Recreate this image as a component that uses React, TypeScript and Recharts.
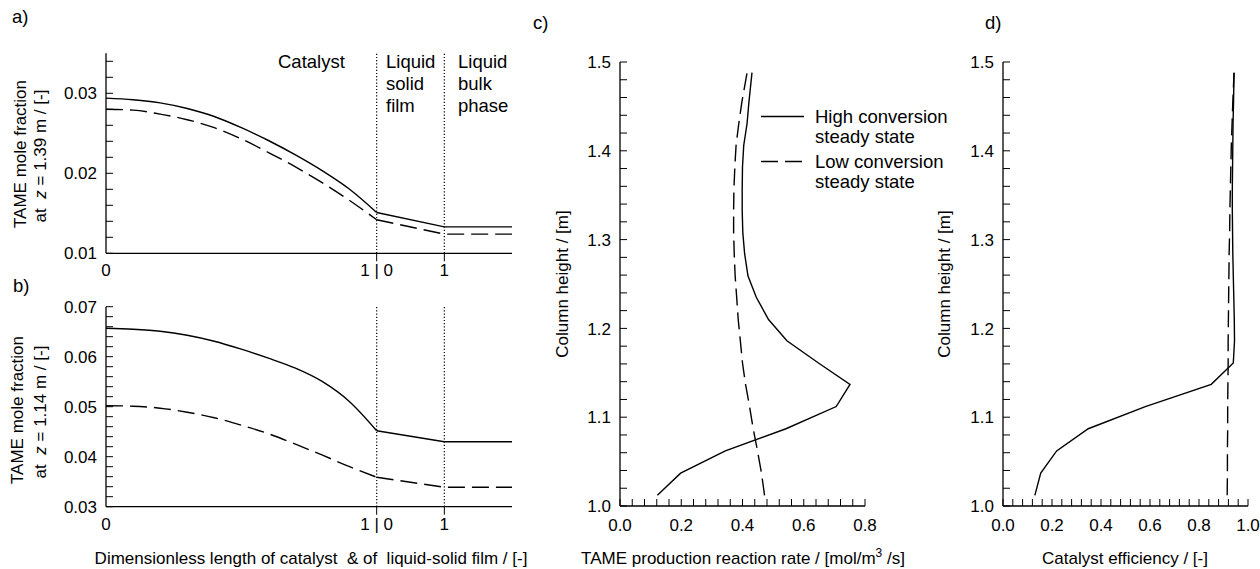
import React from 'react';
import { LineChart, Line, XAxis, YAxis, ReferenceLine } from 'recharts';

const FONT = '"Liberation Sans", Arial, Helvetica, sans-serif';

// ---------- Panels a) and b): concentration profiles ----------
// position: catalyst 0..1, liquid-solid film drawn on 1..1.25, bulk 1.25..1.5
const profilePos = [0, 0.1, 0.2, 0.3, 0.4, 0.5, 0.6, 0.7, 0.8, 0.9, 1.0, 1.25, 1.5];
const aHigh = [0.0294, 0.0292, 0.0288, 0.0281, 0.0271, 0.0257, 0.0241, 0.0223, 0.0203, 0.018, 0.0151, 0.0133, 0.0133];
const aLow = [0.028, 0.0279, 0.0274, 0.0267, 0.0257, 0.0243, 0.0226, 0.0208, 0.0188, 0.0166, 0.0142, 0.0124, 0.0124];
const bHigh = [0.0657, 0.0655, 0.0651, 0.0643, 0.0631, 0.0615, 0.0597, 0.0577, 0.055, 0.051, 0.0452, 0.043, 0.043];
const bLow = [0.0502, 0.0501, 0.0497, 0.0489, 0.0478, 0.0463, 0.0446, 0.0425, 0.0403, 0.038, 0.0359, 0.0339, 0.0339];

const abXTicks = [0, 1, 1.25];
const abXLabels = ['0', '1 | 0', '1'];
const abBoundaries = [1, 1.25];
const abXDomain = [0, 1.5];
const catalystEnd = 1;

const aYDomain = [0.01, 0.035];
const aYMajor = [0.01, 0.02, 0.03];
const aYTicks = [0.01, 0.012, 0.014, 0.016, 0.018, 0.02, 0.022, 0.024, 0.026, 0.028, 0.03, 0.032, 0.034];
const bYDomain = [0.03, 0.07];
const bYMajor = [0.03, 0.04, 0.05, 0.06, 0.07];
const bYTicks = [0.03, 0.032, 0.034, 0.036, 0.038, 0.04, 0.042, 0.044, 0.046, 0.048, 0.05, 0.052, 0.054, 0.056, 0.058, 0.06, 0.062, 0.064, 0.066, 0.068, 0.07];

// ---------- Panels c) and d): axial profiles ----------
const heights = [1.012, 1.037, 1.062, 1.087, 1.112, 1.137, 1.161, 1.186, 1.21, 1.235, 1.259, 1.284, 1.308, 1.333, 1.357, 1.382, 1.406, 1.431, 1.455, 1.488];
const cHigh = [0.122, 0.198, 0.344, 0.542, 0.706, 0.751, 0.648, 0.545, 0.485, 0.445, 0.418, 0.407, 0.401, 0.399, 0.399, 0.4, 0.404, 0.415, 0.421, 0.431];
const cLow = [0.472, 0.462, 0.449, 0.435, 0.423, 0.41, 0.4, 0.393, 0.386, 0.381, 0.376, 0.373, 0.371, 0.371, 0.372, 0.375, 0.379, 0.388, 0.398, 0.415];
const dHigh = [0.13, 0.154, 0.219, 0.348, 0.581, 0.85, 0.94, 0.945, 0.944, 0.942, 0.94, 0.938, 0.937, 0.936, 0.936, 0.937, 0.938, 0.939, 0.941, 0.943];
const dLow = [0.915, 0.916, 0.916, 0.917, 0.917, 0.918, 0.919, 0.919, 0.92, 0.921, 0.922, 0.923, 0.925, 0.926, 0.928, 0.93, 0.932, 0.935, 0.938, 0.943];

const hDomain = [1.0, 1.5];
const hMajor = [1.0, 1.1, 1.2, 1.3, 1.4, 1.5];
const hTicks = [1.0, 1.02, 1.04, 1.06, 1.08, 1.1, 1.12, 1.14, 1.16, 1.18, 1.2, 1.22, 1.24, 1.26, 1.28, 1.3, 1.32, 1.34, 1.36, 1.38, 1.4, 1.42, 1.44, 1.46, 1.48, 1.5];
const cXDomain = [0, 0.8];
const cXMajor = [0, 0.2, 0.4, 0.6, 0.8];
const cXTicks = [0, 0.04, 0.08, 0.12, 0.16, 0.2, 0.24, 0.28, 0.32, 0.36, 0.4, 0.44, 0.48, 0.52, 0.56, 0.6, 0.64, 0.68, 0.72, 0.76, 0.8];
const dXDomain = [0, 1.0];
const dXMajor = [0, 0.2, 0.4, 0.6, 0.8, 1.0];
const dXTicks = [0, 0.04, 0.08, 0.12, 0.16, 0.2, 0.24, 0.28, 0.32, 0.36, 0.4, 0.44, 0.48, 0.52, 0.56, 0.6, 0.64, 0.68, 0.72, 0.76, 0.8, 0.84, 0.88, 0.92, 0.96, 1.0];

const legendItems = [
  { lines: ['High conversion', 'steady state'], dash: undefined as string | undefined },
  { lines: ['Low conversion', 'steady state'], dash: '17 7' },
];

const DASH = '17 7';
const SW = 1.4;
const TICK_FS = 17;

// catalyst part (smooth) and film/bulk part (straight) are drawn as separate lines
const buildProfile = (hi: number[], lo: number[]) =>
  profilePos.map((p, i) => ({
    p,
    highCat: p <= catalystEnd ? hi[i] : null,
    lowCat: p <= catalystEnd ? lo[i] : null,
    highOut: p >= catalystEnd ? hi[i] : null,
    lowOut: p >= catalystEnd ? lo[i] : null,
  }));
const profileA = buildProfile(aHigh, aLow);
const profileB = buildProfile(bHigh, bLow);
const axialC = heights.map((h, i) => ({ h, high: cHigh[i], low: cLow[i] }));
const axialD = heights.map((h, i) => ({ h, high: dHigh[i], low: dLow[i] }));

const isIn = (arr: number[], v: number) => arr.some((m) => Math.abs(m - v) < 1e-9);

const makeYTick = (majors: number[], digits: number) => (props: any) => {
  const { x, y, payload } = props;
  const v = payload.value;
  return (
    <g>
      <line x1={x} x2={x + 7} y1={y} y2={y} stroke="#000" strokeWidth={1} />
      {isIn(majors, v) && (
        <text x={x - 9} y={y} dy="0.36em" textAnchor="end" fontSize={TICK_FS} fontFamily={FONT} fill="#000">
          {v.toFixed(digits)}
        </text>
      )}
    </g>
  );
};

const makeXTick = (majors: number[], digits: number) => (props: any) => {
  const { x, y, payload } = props;
  const v = payload.value;
  return (
    <g>
      <line x1={x} x2={x} y1={y} y2={y - 7} stroke="#000" strokeWidth={1} />
      {isIn(majors, v) && (
        <text x={x} y={y + 19} dy="0.36em" textAnchor="middle" fontSize={TICK_FS} fontFamily={FONT} fill="#000">
          {v.toFixed(digits)}
        </text>
      )}
    </g>
  );
};

const abXTick = (props: any) => {
  const { x, y, payload } = props;
  const i = abXTicks.findIndex((t) => Math.abs(t - payload.value) < 1e-9);
  return (
    <g>
      {payload.value !== 0 && <line x1={x} x2={x} y1={y} y2={y + 8} stroke="#000" strokeWidth={1} />}
      <text x={x} y={y + 17} dy="0.36em" textAnchor="middle" fontSize={TICK_FS} fontFamily={FONT} fill="#000">
        {abXLabels[i]}
      </text>
    </g>
  );
};

const axisLine = { stroke: '#000', strokeWidth: 1.3 };

function ProfileChart({ data, yDomain, yTicks, yMajor, top }: any) {
  return (
    <LineChart
      width={530}
      height={top === 0 ? 290 : 280}
      data={data}
      margin={{ top: top === 0 ? 53.3 : 36.7, right: 18, bottom: 0, left: 0 }}
    >
      <XAxis
        dataKey="p"
        type="number"
        domain={abXDomain}
        ticks={abXTicks}
        interval={0}
        tickSize={0}
        tickMargin={0}
        tickLine={false}
        axisLine={axisLine}
        tick={abXTick}
        height={top === 0 ? 36.7 : 43.3}
        allowDataOverflow
      />
      <YAxis
        type="number"
        domain={yDomain}
        ticks={yTicks}
        interval={0}
        tickSize={0}
        tickMargin={0}
        tickLine={false}
        axisLine={axisLine}
        tick={makeYTick(yMajor, 2)}
        width={106}
        allowDataOverflow
      />
      {abBoundaries.map((b) => (
        <ReferenceLine key={b} x={b} stroke="#000" strokeWidth={1.2} strokeDasharray="1.2 2" />
      ))}
      <Line dataKey="highCat" type="monotone" stroke="#000" strokeWidth={SW} dot={false} isAnimationActive={false} />
      <Line dataKey="lowCat" type="monotone" stroke="#000" strokeWidth={SW} strokeDasharray={DASH} dot={false} isAnimationActive={false} />
      <Line dataKey="highOut" type="linear" stroke="#000" strokeWidth={SW} dot={false} isAnimationActive={false} />
      <Line dataKey="lowOut" type="linear" stroke="#000" strokeWidth={SW} strokeDasharray={DASH} dot={false} isAnimationActive={false} />
    </LineChart>
  );
}

function AxialChart({ data, xDomain, xTicks, xMajor, yWidth, rightMargin, width }: any) {
  return (
    <LineChart
      layout="vertical"
      width={width}
      height={540}
      data={data}
      margin={{ top: 62, right: rightMargin, bottom: 0, left: 0 }}
    >
      <XAxis
        type="number"
        domain={xDomain}
        ticks={xTicks}
        interval={0}
        tickSize={0}
        tickMargin={0}
        tickLine={false}
        axisLine={axisLine}
        tick={makeXTick(xMajor, 1)}
        height={34}
        allowDataOverflow
      />
      <YAxis
        type="number"
        dataKey="h"
        domain={hDomain}
        ticks={hTicks}
        interval={0}
        tickSize={0}
        tickMargin={0}
        tickLine={false}
        axisLine={axisLine}
        tick={makeYTick(hMajor, 1)}
        width={yWidth}
        reversed
        allowDataOverflow
      />
      <Line dataKey="high" type="linear" stroke="#000" strokeWidth={SW} dot={false} isAnimationActive={false} />
      <Line dataKey="low" type="linear" stroke="#000" strokeWidth={SW} strokeDasharray={DASH} dot={false} isAnimationActive={false} />
    </LineChart>
  );
}

const txt = { fontFamily: FONT, fill: '#000' };

export default function App() {
  return (
    <div style={{ position: 'absolute', left: 0, top: 0, width: 1260, height: 569, background: '#fff', overflow: 'hidden' }}>
      <div style={{ position: 'absolute', left: 0, top: 0 }}>
        <ProfileChart data={profileA} yDomain={aYDomain} yTicks={aYTicks} yMajor={aYMajor} top={0} />
      </div>
      <div style={{ position: 'absolute', left: 0, top: 270 }}>
        <ProfileChart data={profileB} yDomain={bYDomain} yTicks={bYTicks} yMajor={bYMajor} top={270} />
      </div>
      <div style={{ position: 'absolute', left: 540, top: 0 }}>
        <AxialChart data={axialC} xDomain={cXDomain} xTicks={cXTicks} xMajor={cXMajor} yWidth={80} rightMargin={20} width={345} />
      </div>
      <div style={{ position: 'absolute', left: 920, top: 0 }}>
        <AxialChart data={axialD} xDomain={dXDomain} xTicks={dXTicks} xMajor={dXMajor} yWidth={83} rightMargin={12} width={340} />
      </div>
      <svg width={1260} height={569} style={{ position: 'absolute', left: 0, top: 0, pointerEvents: 'none' }}>
        {/* panel letters */}
        <text x={12} y={22.5} fontSize={18.5} {...txt}>a)</text>
        <text x={13} y={291.5} fontSize={18.5} {...txt}>b)</text>
        <text x={533} y={28.5} fontSize={18.5} {...txt}>c)</text>
        <text x={985} y={28.5} fontSize={18.5} {...txt}>d)</text>

        {/* region annotations in a) */}
        <text x={278} y={68} fontSize={18.5} {...txt}>Catalyst</text>
        <text x={386} y={68} fontSize={18.5} {...txt}>Liquid</text>
        <text x={386} y={90} fontSize={18.5} {...txt}>solid</text>
        <text x={386} y={112} fontSize={18.5} {...txt}>film</text>
        <text x={458} y={68} fontSize={18.5} {...txt}>Liquid</text>
        <text x={458} y={90} fontSize={18.5} {...txt}>bulk</text>
        <text x={458} y={112} fontSize={18.5} {...txt}>phase</text>

        {/* y titles a, b */}
        <text transform="translate(20,154) rotate(-90)" textAnchor="middle" dominantBaseline="central" fontSize={17} {...txt}>TAME mole fraction</text>
        <text transform="translate(40,156) rotate(-90)" textAnchor="middle" dominantBaseline="central" fontSize={17} {...txt}>
          at{'\u00a0\u00a0'}<tspan fontStyle="italic">z</tspan> = 1.39 m / [-]
        </text>
        <text transform="translate(17,410) rotate(-90)" textAnchor="middle" dominantBaseline="central" fontSize={17} {...txt}>TAME mole fraction</text>
        <text transform="translate(40,412) rotate(-90)" textAnchor="middle" dominantBaseline="central" fontSize={17} {...txt}>
          at{'\u00a0\u00a0'}<tspan fontStyle="italic">z</tspan> = 1.14 m / [-]
        </text>

        {/* y titles c, d */}
        <text transform="translate(562,284) rotate(-90)" textAnchor="middle" dominantBaseline="central" fontSize={17} {...txt}>Column height / [m]</text>
        <text transform="translate(944,284) rotate(-90)" textAnchor="middle" dominantBaseline="central" fontSize={17} {...txt}>Column height / [m]</text>

        {/* x titles */}
        <text x={311} y={564} textAnchor="middle" fontSize={17} {...txt}>
          Dimensionless length of catalyst{'\u00a0\u00a0'}&amp; of{'\u00a0\u00a0'}liquid-solid film / [-]
        </text>
        <text x={743} y={564} textAnchor="middle" fontSize={17} {...txt}>
          TAME production reaction rate / [mol/m<tspan dy={-7} fontSize={12}>3</tspan><tspan dy={7}>{'\u00a0'}/s]</tspan>
        </text>
        <text x={1125} y={564} textAnchor="middle" fontSize={17} {...txt}>Catalyst efficiency / [-]</text>

        {/* legend in c) */}
        {legendItems.map((it, i) => {
          const y0 = 116.5 + i * 45;
          return (
            <g key={i}>
              <line x1={761} x2={804} y1={y0} y2={y0} stroke="#000" strokeWidth={SW} strokeDasharray={it.dash} />
              {it.lines.map((l, j) => (
                <text key={j} x={815} y={y0 + 6.5 + j * 20} fontSize={18.5} {...txt}>{l}</text>
              ))}
            </g>
          );
        })}
      </svg>
    </div>
  );
}
